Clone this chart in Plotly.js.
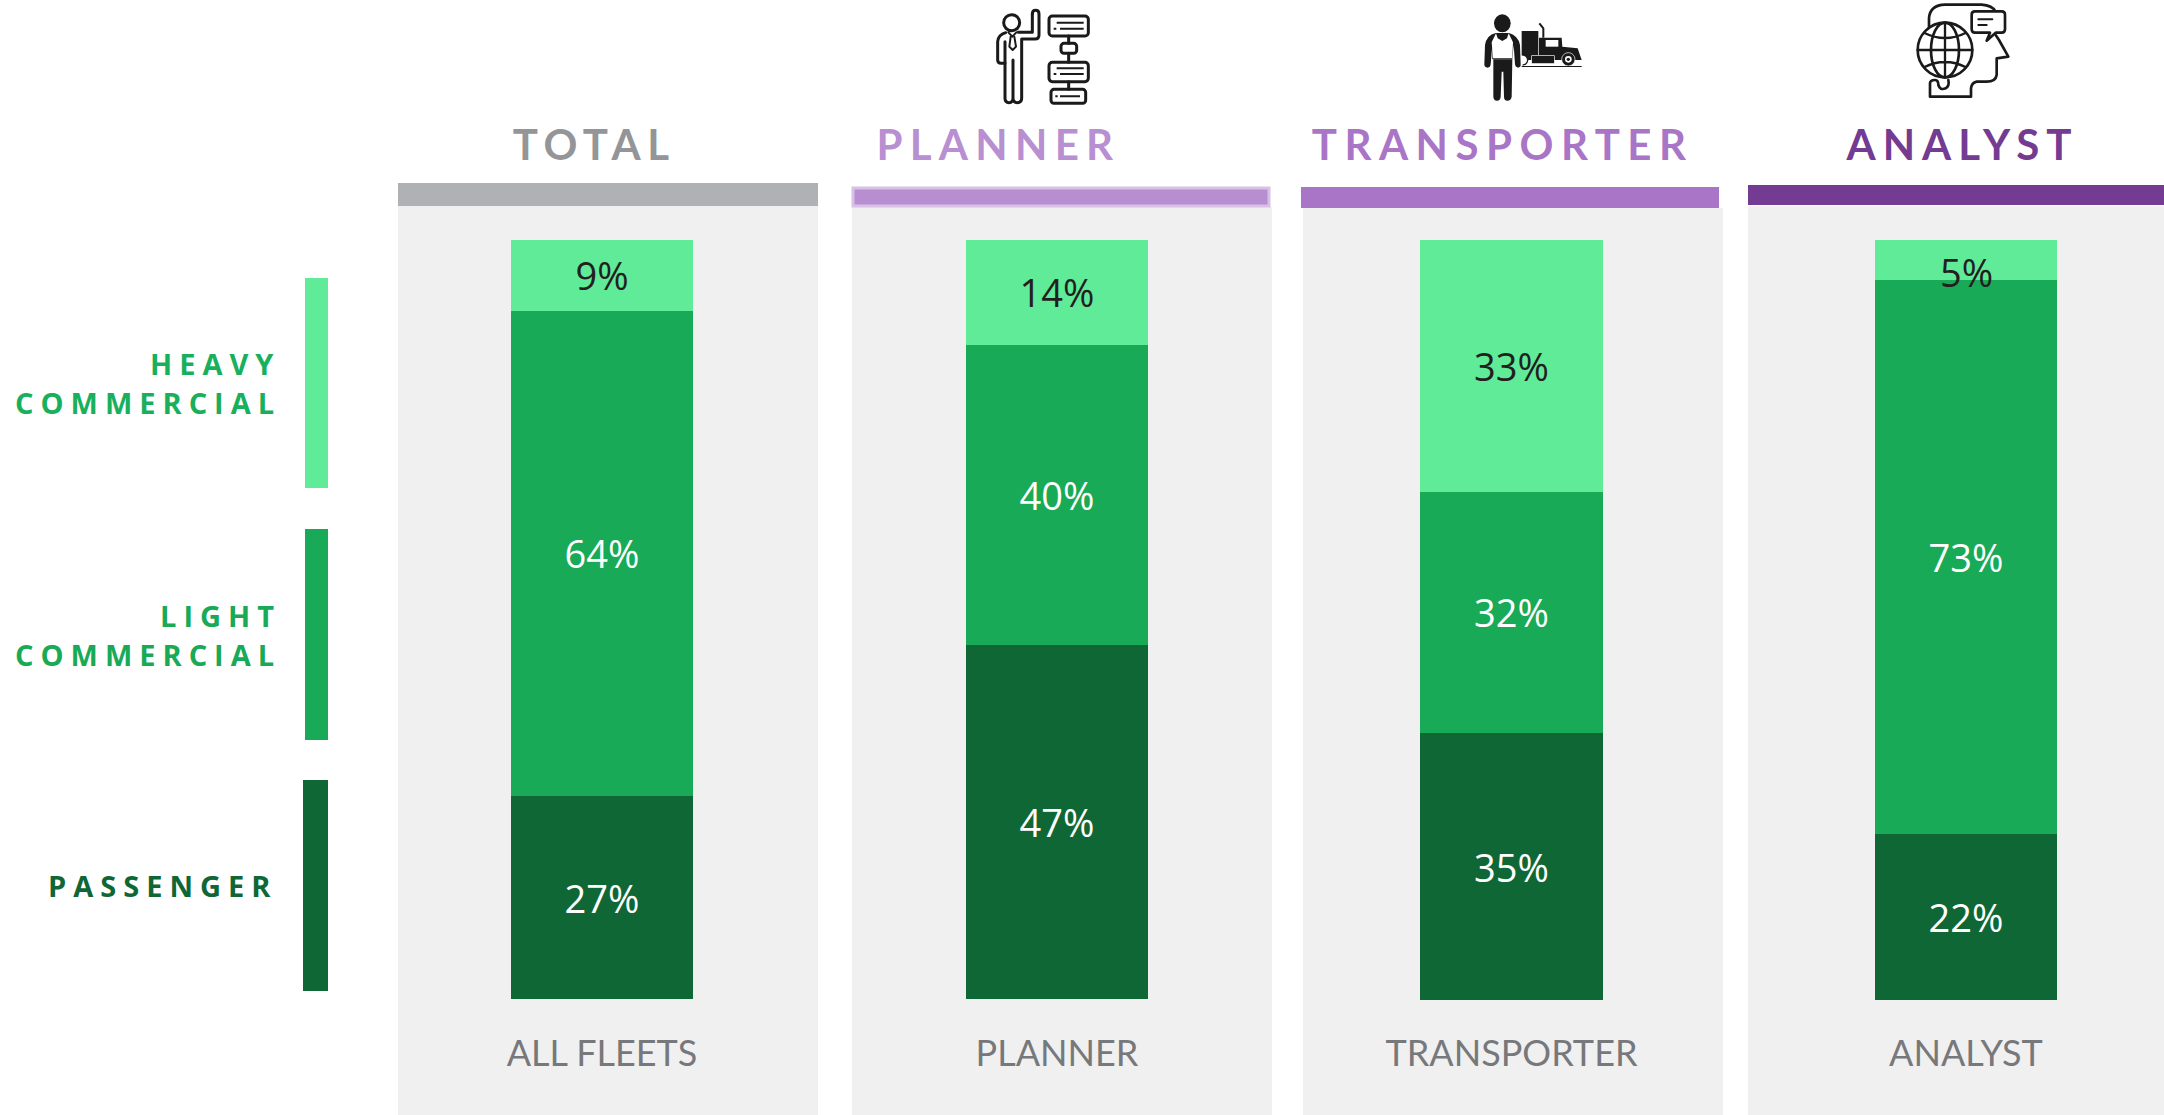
<!DOCTYPE html>
<html>
<head>
<meta charset="utf-8">
<script src="https://cdn.plot.ly/plotly-3.0.1.min.js"></script>
<style>html,body{margin:0;padding:0;background:#fff;overflow:hidden}#chart{width:2164px;height:1115px}</style>
</head>
<body>
<div id="chart"></div>
<script>
// ---------- data ----------
const categories = ['ALL FLEETS', 'PLANNER', 'TRANSPORTER', 'ANALYST'];
const headers = ['TOTAL', 'PLANNER', 'TRANSPORTER', 'ANALYST'];
// segment shares; their labels are the rounded values
const passenger = [26.7, 46.7, 35.1, 21.8];
const lightCommercial = [64, 39.5, 31.8, 72.9];
const heavyCommercial = [9.3, 13.8, 33.1, 5.3];
const seriesNames = ['PASSENGER', 'LIGHT COMMERCIAL', 'HEAVY COMMERCIAL'];

// ---------- page geometry & styles ----------
const W = 2164, H = 1115;
const panels = [
  {x0: 398, x1: 818, top: 206, barL: 511, barR: 693, barT: 240, barB: 999},
  {x0: 852, x1: 1272, top: 207, barL: 966, barR: 1148, barT: 240, barB: 999},
  {x0: 1303, x1: 1723, top: 208, barL: 1420, barR: 1603, barT: 240, barB: 1000},
  {x0: 1748, x1: 2164, top: 206, barL: 1875, barR: 2057, barT: 240, barB: 1000}
];
const headerBars = [
  {x0: 398, x1: 818, y0: 183, y1: 206, fill: '#aeb2b5', line: null},
  {x0: 853, x1: 1269, y0: 188, y1: 206, fill: '#b78fd0', line: '#d8c0e6'},
  {x0: 1301, x1: 1719, y0: 187, y1: 208, fill: '#a975c6', line: null},
  {x0: 1748, x1: 2164, y0: 185, y1: 205, fill: '#733b92', line: null}
];
const headerStyles = [
  {cx: 594, color: '#939598', sp: 6.5},
  {cx: 999, color: '#b88fd1', sp: 7.3},
  {cx: 1503, color: '#a975c6', sp: 7.5},
  {cx: 1962, color: '#733b92', sp: 7}
];
const colors = {passenger: '#0f6736', light: '#18aa57', heavy: '#60eb98'};
const LABEL_FONT = 'Open Sans, sans-serif';
const px = x => x / W, py = y => 1 - y / H;

// ---------- icons ----------
const svgUri = (vb, body) => 'data:image/svg+xml;charset=utf-8,' + encodeURIComponent(
  `<svg xmlns="http://www.w3.org/2000/svg" viewBox="0 0 ${vb}">${body}</svg>`);

const iconPlanner = svgUri('345 330', `
<g fill="none" stroke="#1a1a1a" stroke-width="9" stroke-linejoin="round" stroke-linecap="round">
<circle cx="80" cy="68" r="24"/>
<path d="M142 42Q142 31 152 31Q162 31 162 42L162 105Q162 117 150 117L110 117L110 295Q110 308 97 308Q84 308 84 295L84 180M84 295Q84 308 72 308Q60 308 60 295L60 125"/>
<path d="M142 42L142 97L100 97M62 98Q40 104 38 125L38 180Q38 190 48 190L60 190"/>
<path d="M70 97L82 110L94 97" stroke-width="6"/>
<path d="M77 110L73 140L83 150L93 140L88 110" stroke-width="6"/>
<rect x="192" y="48" width="118" height="60" rx="10"/>
<rect x="228" y="130" width="47" height="30" rx="9"/>
<rect x="192" y="187" width="118" height="58" rx="10"/>
<rect x="198" y="268" width="104" height="42" rx="9"/>
<path d="M251 108L251 130M251 160L251 187M251 245L251 268"/>
<path d="M215 68L296 68M225 86L296 86M206 86L214 86M215 205L296 205M225 222L296 222M206 222L214 222M225 289L285 289M211 289L218 289" stroke-width="6" stroke-linecap="butt"/>
</g>`);

const iconTransporter = svgUri('345 315', `
<g fill="#1a1a1a">
<ellipse cx="82" cy="55" rx="25" ry="27"/>
<path d="M62 84Q35 90 30 120L28 178Q28 188 38 188Q46 188 47 178L52 120L52 163L112 163L116 120L120 178Q122 188 130 188Q138 186 137 178L135 120Q130 92 102 84Z"/>
<path fill="#fff" d="M63 85L68 100L82 108L96 100L101 85L114 112L112 160L54 160L50 112Z"/>
<path d="M55 163L112 163L110 275Q108 287 97 287Q87 287 87 275L85 200L80 200L77 275Q76 287 66 287Q56 287 55 275Z"/>
<rect x="140" y="78" width="50" height="74"/>
<path d="M192 150L192 98L260 98L262 125L308 130L320 165L145 165L145 150Z"/>
<rect x="212" y="105" width="38" height="20" fill="#fff"/>
<path d="M193 55L205 70L205 98" fill="none" stroke="#1a1a1a" stroke-width="6"/>
<rect x="170" y="152" width="68" height="24" stroke="#fff" stroke-width="2"/>
<circle cx="280" cy="163" r="20" stroke="#fff" stroke-width="2"/>
<circle cx="280" cy="163" r="10" fill="#fff"/>
<circle cx="280" cy="163" r="5"/>
<path d="M143 150A15 15 0 0 1 143 180" fill="#fff" stroke="#1a1a1a" stroke-width="4"/>
<rect x="140" y="183" width="180" height="3"/>
</g>`);

const iconAnalyst = svgUri('345 315', `
<g fill="none" stroke="#1a1a1a" stroke-width="8" stroke-linejoin="round" stroke-linecap="round">
<path d="M72 85L72 55Q75 15 120 14L230 14Q262 16 272 35"/>
<path d="M272 105L282 120L310 170L275 175L275 225Q272 245 245 245L215 245Q200 248 198 265L198 290L75 290L75 250Q75 240 90 240Q100 240 100 255Q105 272 122 265Q134 258 130 240"/>
<path d="M210 34L290 34Q300 34 300 44L300 88Q300 98 290 98L272 98L245 122L255 98L210 98Q200 98 200 88L200 44Q200 34 210 34Z" fill="#fff"/>
<path d="M220 58L262 58M220 75L245 75" stroke-width="6"/>
<circle cx="120" cy="150" r="82" fill="#fff"/>
<ellipse cx="120" cy="150" rx="42" ry="82"/>
<path d="M120 68L120 232M38 150L202 150M57 98Q120 130 183 98M57 202Q120 170 183 202" stroke-width="7"/>
</g>`);

// ---------- traces ----------
const series = [
  {name: seriesNames[0], values: passenger, color: colors.passenger, text: '#ffffff'},
  {name: seriesNames[1], values: lightCommercial, color: colors.light, text: '#ffffff'},
  {name: seriesNames[2], values: heavyCommercial, color: colors.heavy, text: '#231f20'}
];
const traces = [];
categories.forEach((cat, i) => {
  const suffix = i === 0 ? '' : String(i + 1);
  series.forEach(s => {
    const v = s.values[i];
    traces.push({
      type: 'bar', name: s.name, x: [cat], y: [v], width: [1],
      xaxis: 'x' + suffix, yaxis: 'y' + suffix,
      marker: {color: s.color, line: {width: 0}},
      text: [Math.round(v) + '%'],
      textposition: v < 8 ? 'none' : 'inside',
      insidetextanchor: 'middle', textangle: 0, constraintext: 'none',
      insidetextfont: {family: LABEL_FONT, size: 38, color: s.text},
      hoverinfo: 'name+y', showlegend: false
    });
  });
});

// ---------- layout ----------
const layout = {
  width: W, height: H, margin: {l: 0, r: 0, t: 0, b: 0},
  paper_bgcolor: '#ffffff', plot_bgcolor: '#f0f0f0',
  barmode: 'stack', showlegend: false,
  shapes: [], annotations: [],
  images: [
    {source: iconPlanner, x: px(985), y: py(0), sizex: 115 / W, sizey: 110 / H},
    {source: iconTransporter, x: px(1475), y: py(5), sizex: 115 / W, sizey: 105 / H},
    {source: iconAnalyst, x: px(1905), y: py(0), sizex: 115 / W, sizey: 105 / H}
  ].map(im => Object.assign(im, {xref: 'paper', yref: 'paper', xanchor: 'left', yanchor: 'top', sizing: 'stretch', layer: 'above'}))
};

panels.forEach((p, i) => {
  const suffix = i === 0 ? '' : String(i + 1);
  const c = (p.barL + p.barR) / 2, w = p.barR - p.barL;
  const k = 100 / (p.barB - p.barT);
  layout['xaxis' + suffix] = {
    domain: [px(p.x0), px(p.x1)], type: 'category', anchor: 'free', position: py(1029),
    range: [-(c - p.x0) / w, (p.x1 - c) / w],
    tickmode: 'array', tickvals: [categories[i]], ticktext: [categories[i]],
    ticks: '', showline: false, showgrid: false, zeroline: false, fixedrange: true,
    tickfont: {family: 'Lato, sans-serif', size: 36, color: '#77787b'}
  };
  layout['yaxis' + suffix] = {
    domain: [0, py(p.top)], anchor: 'x' + suffix, visible: false, fixedrange: true,
    range: [-(H - p.barB) * k, 100 + (p.barT - p.top) * k]
  };
});

headerBars.forEach(b => layout.shapes.push({
  type: 'rect', xref: 'paper', yref: 'paper', layer: 'above',
  x0: px(b.x0), x1: px(b.x1), y0: py(b.y1), y1: py(b.y0),
  fillcolor: b.fill, line: b.line ? {color: b.line, width: 3} : {width: 0}
}));

const legendRects = [
  {x0: 305, x1: 328, y0: 278, y1: 488, fill: colors.heavy},
  {x0: 305, x1: 328, y0: 529, y1: 740, fill: colors.light},
  {x0: 303, x1: 328, y0: 780, y1: 991, fill: colors.passenger}
];
legendRects.forEach(b => layout.shapes.push({
  type: 'rect', xref: 'paper', yref: 'paper', layer: 'above',
  x0: px(b.x0), x1: px(b.x1), y0: py(b.y1), y1: py(b.y0), fillcolor: b.fill, line: {width: 0}
}));

// annotations: spacing of each is applied through a style rule below
const spacing = [];
function note(text, x, y, xanchor, family, size, weight, color, sp) {
  layout.annotations.push({
    text, xref: 'paper', yref: 'paper', x: px(x), y: py(y), xanchor, yanchor: 'middle',
    showarrow: false, align: xanchor === 'right' ? 'right' : 'center',
    font: {family, size, weight, color}
  });
  spacing.push(sp);
}
headers.forEach((h, i) => note(h, headerStyles[i].cx, 144, 'center', 'Lato, sans-serif', 42, 700, headerStyles[i].color, headerStyles[i].sp));
const LEG = '#18b05c';
note('HEAVY', 283, 364, 'right', LABEL_FONT, 29, 700, LEG, 7);
note('COMMERCIAL', 283, 402, 'right', LABEL_FONT, 29, 700, LEG, 7);
note('LIGHT', 283, 615, 'right', LABEL_FONT, 29, 700, colors.light, 7);
note('COMMERCIAL', 283, 654, 'right', LABEL_FONT, 29, 700, colors.light, 7);
note('PASSENGER', 280, 885, 'right', LABEL_FONT, 29, 700, colors.passenger, 7);

// a value label too small for its segment sits over the segment edge
heavyCommercial.forEach((v, i) => {
  if (v >= 8) return;
  const suffix = i === 0 ? '' : String(i + 1);
  layout.annotations.push({
    text: Math.round(v) + '%', xref: 'x' + suffix, yref: 'y' + suffix, x: categories[i], y: 100 - v / 2,
    yshift: -12, showarrow: false, xanchor: 'center', yanchor: 'middle',
    font: {family: LABEL_FONT, size: 38, color: series[2].text}
  });
  spacing.push(0);
});

const styleEl = document.createElement('style');
styleEl.textContent = spacing.map((s, i) =>
  `.annotation[data-index="${i}"] .annotation-text{letter-spacing:${s}px}`).join('\n');
document.head.appendChild(styleEl);

Plotly.newPlot('chart', traces, layout, {displayModeBar: false, responsive: false});
</script>
</body>
</html>
